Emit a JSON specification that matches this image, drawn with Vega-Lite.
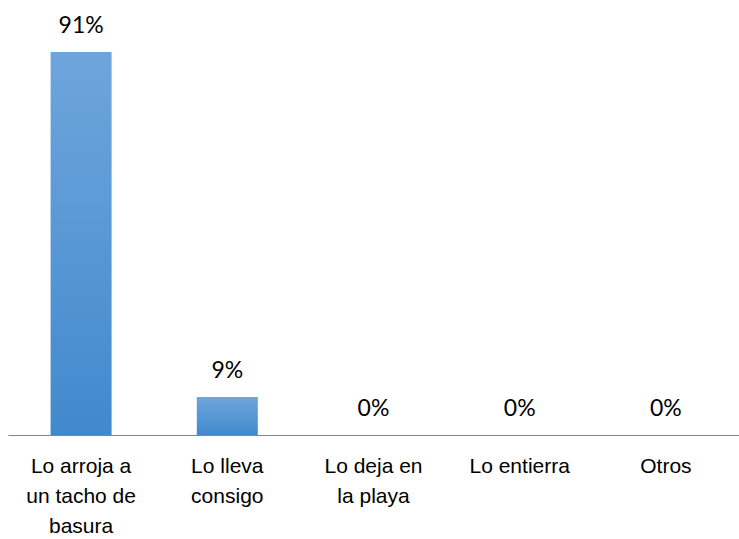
{
  "$schema": "https://vega.github.io/schema/vega-lite/v6.json",
  "width": 731,
  "height": 421,
  "autosize": "none",
  "padding": {"left": 8, "top": 14, "right": 0, "bottom": 104},
  "background": "white",
  "config": {"view": {"stroke": null}},
  "data": {
    "values": [
      {"categoria": "Lo arroja a un tacho de basura", "porcentaje": 0.91},
      {"categoria": "Lo lleva consigo", "porcentaje": 0.09},
      {"categoria": "Lo deja en la playa", "porcentaje": 0.0},
      {"categoria": "Lo entierra", "porcentaje": 0.0},
      {"categoria": "Otros", "porcentaje": 0.0}
    ]
  },
  "encoding": {
    "x": {
      "field": "categoria",
      "type": "nominal",
      "sort": null,
      "scale": {"paddingInner": 0.58, "paddingOuter": 0.29},
      "axis": {
        "title": null,
        "labelAngle": 0,
        "ticks": false,
        "domainColor": "#868686",
        "domainWidth": 1.2,
        "labelFont": "Liberation Sans",
        "labelFontSize": 21,
        "labelColor": "#000000",
        "labelPadding": 31,
        "labelLineHeight": 30,
        "labelBaseline": "middle",
        "labelExpr": "datum.value == 'Lo arroja a un tacho de basura' ? ['Lo arroja a', 'un tacho de', 'basura'] : datum.value == 'Lo lleva consigo' ? ['Lo lleva', 'consigo'] : datum.value == 'Lo deja en la playa' ? ['Lo deja en', 'la playa'] : datum.value"
      }
    },
    "y": {
      "field": "porcentaje",
      "type": "quantitative",
      "scale": {"domain": [0, 1]},
      "axis": null
    }
  },
  "layer": [
    {
      "mark": {
        "type": "bar",
        "size": 61,
        "color": {
          "gradient": "linear",
          "x1": 0, "y1": 0, "x2": 0, "y2": 1,
          "stops": [
            {"offset": 0, "color": "#6fa5dc"},
            {"offset": 1, "color": "#4189cd"}
          ]
        }
      }
    },
    {
      "mark": {
        "type": "text",
        "dy": -26,
        "font": "Lato",
        "fontSize": 23,
        "color": "#000000",
        "baseline": "middle"
      },
      "encoding": {
        "text": {"field": "porcentaje", "type": "quantitative", "format": ".0%"}
      }
    }
  ]
}
